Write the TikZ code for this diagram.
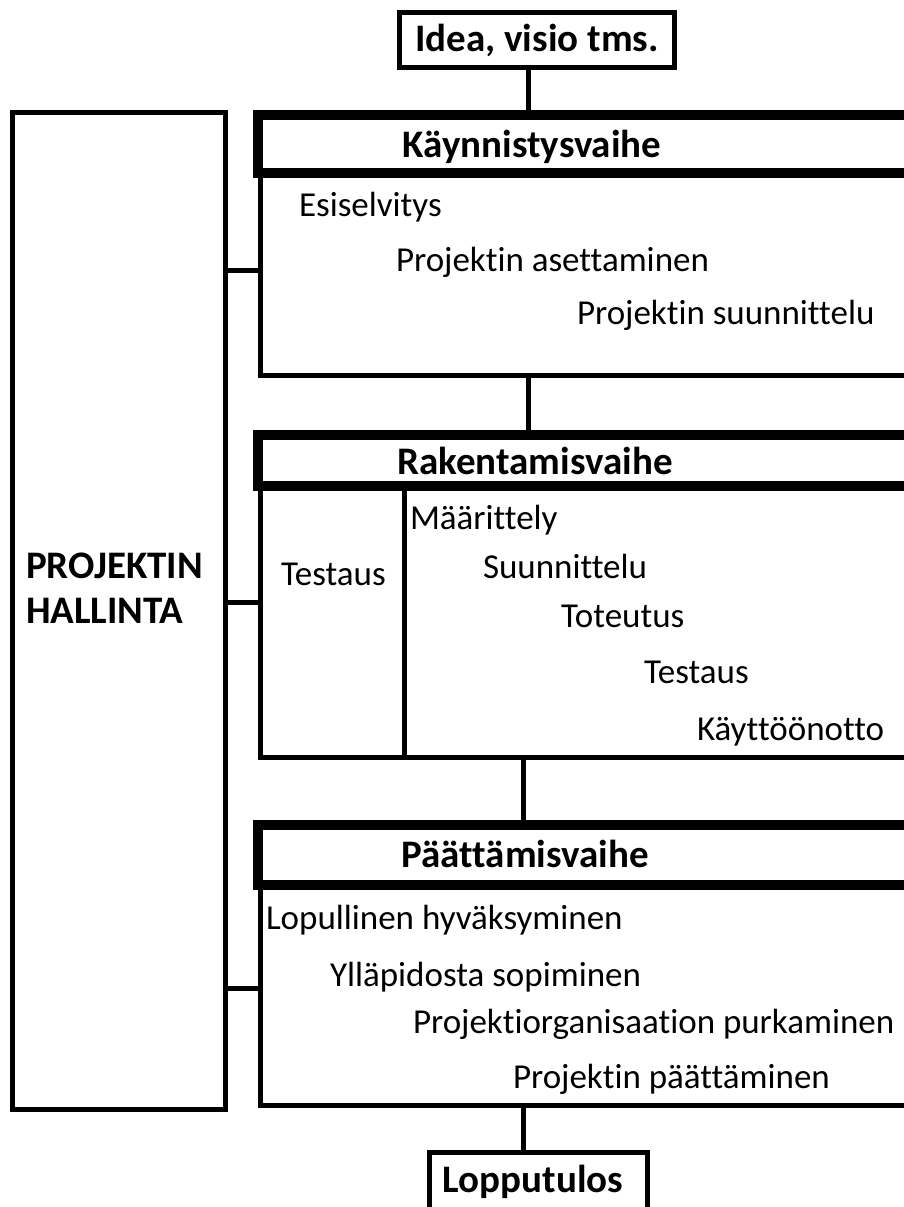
\documentclass[tikz,border=0pt]{standalone}
\usepackage{fontspec}
\setmainfont[Ligatures=CommonOff]{Carlito}

\begin{document}
\begin{tikzpicture}
  [x=1pt,y=-1pt,
   every node/.style={inner sep=0pt,outer sep=0pt,font=\fontsize{35}{40}\selectfont},
   frame/.style={draw,rectangle,line width=5pt},
   headframe/.style={draw,rectangle,line width=10pt},
   title/.style={anchor=base,font=\fontsize{39}{45}\selectfont\bfseries},
   item/.style={anchor=base west}]
  \useasboundingbox (0,0) rectangle (904,1207);
  \fill[white] (0,0) rectangle (904,1207);
  \clip (0,0) rectangle (904,1207);

  % Frames
  \node[frame,minimum width=213pt,minimum height=997pt] (hallinta) at (119,611) {};
  \node[frame,minimum width=275pt,minimum height=55pt,font=\fontsize{39}{45}\selectfont\bfseries] (idea) at (537,40) {Idea, visio tms.};
  \node[frame,minimum width=739.5pt,minimum height=203pt] (kaybody) at (630.25,274) {};
  \node[headframe,minimum width=742pt,minimum height=57.5pt] (kayhead) at (629,143.75) {};
  \node[frame,minimum width=739.5pt,minimum height=271.5pt] (rakbody) at (630.25,621.75) {};
  \node[frame,minimum width=143.5pt,minimum height=271.5pt] (rakleft) at (332.25,621.75) {};
  \node[headframe,minimum width=742pt,minimum height=51pt] (rakhead) at (629,460.5) {};
  \node[frame,minimum width=739.5pt,minimum height=220.5pt] (paabody) at (630.25,995.25) {};
  \node[headframe,minimum width=742pt,minimum height=60pt] (paahead) at (629,855) {};
  \node[frame,minimum width=218pt,minimum height=87.5pt] (loppu) at (538.5,1196) {};

  % Titles
  \node[title] (kaytitle) at (532,157) {Käynnistysvaihe};
  \node[title] (raktitle) at (535,474) {Rakentamisvaihe};
  \node[title] (paatitle) at (525,867) {Päättämisvaihe};
  \node[title] (lopputitle) at (533,1192) {Lopputulos};
  \node[item,font=\fontsize{39}{45}\selectfont\bfseries,align=left] (haltitle) at (26,623) {PROJEKTIN\\HALLINTA};

  % Käynnistysvaihe
  \node[item] (esisel) at (299,216) {Esiselvitys};
  \node[item] (asett) at (396,271) {Projektin asettaminen};
  \node[item] (suunn) at (577,324) {Projektin suunnittelu};
  % Rakentamisvaihe
  \node[item] (testcol) at (281,585) {Testaus};
  \node[item] (maar) at (410,529) {Määrittely};
  \node[item] (suun) at (483,578) {Suunnittelu};
  \node[item] (toteu) at (561,627) {Toteutus};
  \node[item] (testi) at (644,683) {Testaus};
  \node[item] (kaytto) at (697,740) {Käyttöönotto};
  % Päättämisvaihe
  \node[item] (hyvaks) at (266,929) {Lopullinen hyväksyminen};
  \node[item] (yllap) at (330,986) {Ylläpidosta sopiminen};
  \node[item] (purku) at (413,1033) {Projektiorganisaation purkaminen};
  \node[item] (paatos) at (513,1088) {Projektin päättäminen};

  % Connectors
  \coordinate (spineA) at (528,0);
  \coordinate (spineB) at (523,0);
  \coordinate (hk) at (0,270);
  \coordinate (hr) at (0,602);
  \coordinate (hp) at (0,988);
  \foreach \from/\to/\via in {idea/kayhead/spineA,kaybody/rakhead/spineA,
              rakbody/paahead/spineB,paabody/loppu/spineB}
    \draw[line width=5pt] (\from.south -| \via) -- (\to.north -| \via);
  \foreach \to/\via in {kaybody/hk,rakbody/hr,paabody/hp}
    \draw[line width=5pt] (hallinta.east |- \via) -- (\to.west |- \via);

\end{tikzpicture}
\end{document}
